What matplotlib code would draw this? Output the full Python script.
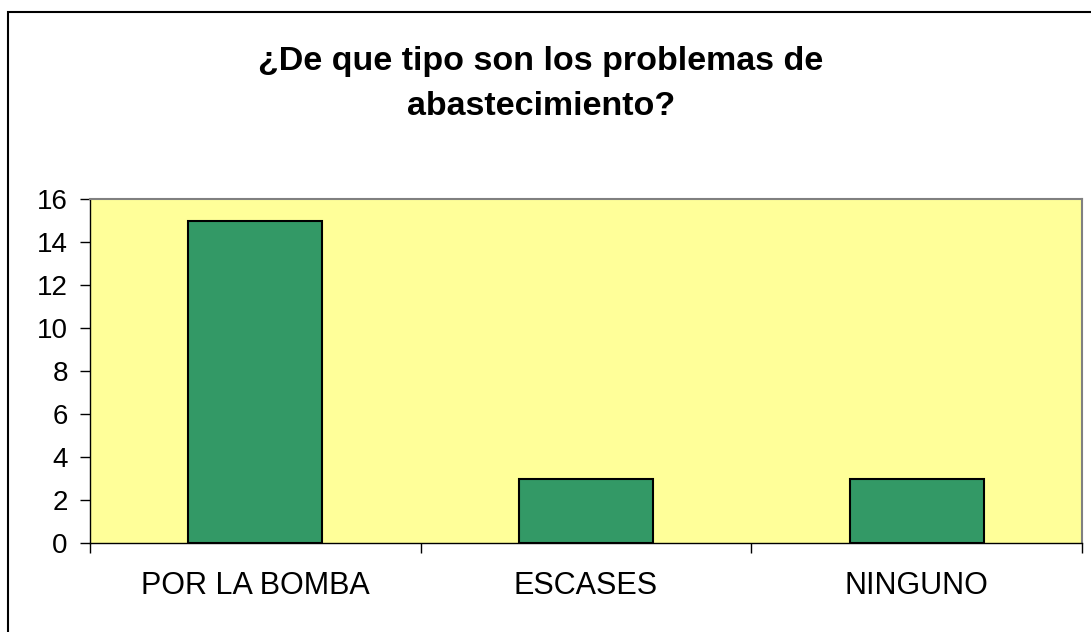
import matplotlib.pyplot as plt
from matplotlib.patches import Rectangle

plt.rcParams['font.family'] = ['Liberation Sans', 'DejaVu Sans']

# data
categories = ["POR LA BOMBA", "ESCASES", "NINGUNO"]
values = [15, 3, 3]
title = "¿De que tipo son los problemas de\nabastecimiento?"

W, H = 1091, 632
fig = plt.figure(figsize=(W / 100, H / 100), dpi=100)

# outer chart border (left and top visible, right/bottom run off the image)
fig.patches.append(Rectangle((7.5 / W, -0.1), 1.2, 1 - 12 / H + 0.1,
                             transform=fig.transFigure, fill=False,
                             edgecolor="black", linewidth=1.5))

ax = fig.add_axes([90 / W, 1 - 543 / H, (1082 - 90) / W, (543 - 199) / H])
ax.set_facecolor("#FFFF99")

x = range(len(categories))
ax.bar(x, values, width=0.405, color="#339966", edgecolor="black", linewidth=1.5)

ax.set_xlim(-0.5, len(categories) - 0.5)
ax.set_ylim(0, 16)
ax.set_yticks(range(0, 17, 2))
ax.tick_params(axis="y", labelsize=20, direction="out", length=7, width=1, pad=9)

ax.set_xticks(list(x))
ax.set_xticklabels(categories, fontsize=22)
ax.tick_params(axis="x", length=0, pad=20)
ax.set_xticks([i - 0.5 for i in range(len(categories) + 1)], minor=True)
ax.tick_params(axis="x", which="minor", direction="out", length=7, width=1)

for s in ["top", "right"]:
    ax.spines[s].set_color("#808080")
    ax.spines[s].set_linewidth(1.5)
for s in ["left", "bottom"]:
    ax.spines[s].set_color("black")
    ax.spines[s].set_linewidth(1)

fig.text(541 / W, 1 - 84 / H, title, ha="center", va="center",
         fontsize=24.5, fontweight="bold", linespacing=1.55)

fig.savefig("out.png", dpi=100)
